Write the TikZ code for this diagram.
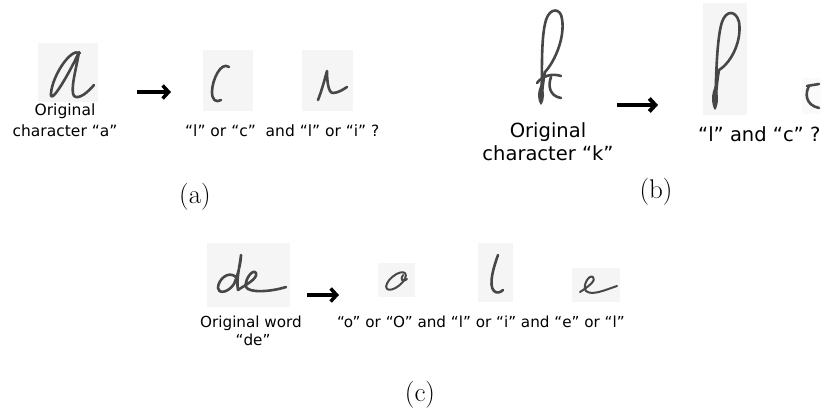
\documentclass[tikz,border=0pt]{standalone}
\usepackage{fontspec}
\newfontfamily\lab{DejaVu Sans}
\usetikzlibrary{arrows.meta}
\begin{document}
\begin{tikzpicture}[x=1pt,y=-1pt,
  gbox/.style={fill=black!4, draw=none},
  pen/.style={draw=black!72, line width=2.6pt, line cap=round, line join=round},
  thinpen/.style={pen, line width=2pt},
  inkfill/.style={fill=black!72},
  labA/.style={font=\lab\fontsize{15.5}{19}\selectfont, inner sep=0pt, anchor=base},
  labB/.style={font=\lab\fontsize{19.5}{23}\selectfont, inner sep=0pt, anchor=base},
  labC/.style={font=\lab\fontsize{15.2}{18}\selectfont, inner sep=0pt, anchor=base},
  capt/.style={font=\fontsize{27}{32}\selectfont, inner sep=0pt},
  arr/.style={line width=3.5pt, -{Straight Barb[length=6pt,width=13pt]}},
]
\useasboundingbox (0,0) rectangle (821,409);

% ---------------- (a) ----------------
\fill[gbox] (38,43) rectangle (98,102);
\draw[pen] (80,53) .. controls (70,47) and (50,80) .. (51,96)
           .. controls (53,101) and (70,72) .. (79,52)
           .. controls (76,70) and (70,90) .. (74,96)
           .. controls (79,100) and (88,92) .. (94,85);
\node[labA] (aO) at (65,116) {Original};
\node[labA] (aC) at (65,136) {character “a”};

\coordinate (aS) at (137,92);
\coordinate (aE) at (171,92);
\draw[arr] (aS) -- (aE);

\fill[gbox] (203,50) rectangle (253,111);
\draw[pen] (229,67) .. controls (221,61) and (212,80) .. (212,92)
           .. controls (212,100) and (216,103) .. (221,100);
\fill[gbox] (302,50) rectangle (353,111);
\draw[pen] (318,100) .. controls (322,90) and (325,78) .. (327,71)
           .. controls (327,80) and (328,93) .. (333,93)
           .. controls (338,93) and (344,89) .. (347,87);
\node[labA, anchor=base west] (aR) at (185,136) {“l” or “c”\ \ and “l” or “i” ?};
\node[capt] (capA) at (195,197) {(a)};

% ---------------- (b) ----------------
\draw[pen] (541,103) .. controls (543,80) and (540,40) .. (546,20)
           .. controls (550,7) and (561,8) .. (562,19)
           .. controls (565,36) and (556,60) .. (545,72)
           .. controls (543,82) and (542,92) .. (541,103);
\fill[inkfill] (541,84) .. controls (545,92) and (545,100) .. (541,105)
               .. controls (537,100) and (537,92) .. (541,84);
\draw[pen] (537,83) .. controls (542,76) and (552,73) .. (561,76);
\draw[pen] (551,77) .. controls (548,85) and (549,96) .. (561,98);
\node[labB] (bO) at (548,137) {Original};
\node[labB] (bC) at (548,160) {character “k”};

\coordinate (bS) at (617,105);
\coordinate (bE) at (658,105);
\draw[arr, line width=4pt] (bS) -- (bE);

\fill[gbox] (703,3) rectangle (747,115);
\draw[pen] (715,108) .. controls (716,90) and (716,40) .. (722,22)
           .. controls (726,10) and (736,10) .. (739,22)
           .. controls (742,40) and (732,62) .. (719,70)
           .. controls (717,80) and (716,95) .. (715,108);
\fill[inkfill] (715,86) .. controls (719,94) and (719,104) .. (715,110)
               .. controls (711,104) and (711,94) .. (715,86);
\fill[black!2] (802,78) rectangle (821,114);
\draw[pen] (807,86) -- (819,84);
\draw[pen] (809,86) .. controls (805,93) and (805,105) .. (819,108);
\node[labB, anchor=base west] (bR) at (698,141) {“l” and “c” ?};
\node[capt] (capB) at (656,192) {(b)};

% ---------------- (c) ----------------
\fill[gbox] (207,243) rectangle (290,307);
\draw[pen] (236,277) .. controls (228,270) and (218,280) .. (218,288)
           .. controls (218,294) and (228,293) .. (234,284)
           .. controls (238,275) and (241,262) .. (241,255)
           .. controls (240,265) and (236,280) .. (238,290);
\draw[pen] (238,290) .. controls (245,285) and (258,279) .. (256,273)
           .. controls (253,268) and (244,280) .. (246,287)
           .. controls (249,293) and (270,292) .. (286,287);
\node[labC] (cO) at (251,327) {Original word};
\node[labC] (cD) at (253,345) {“de”};

\coordinate (cS) at (307,295);
\coordinate (cE) at (339,295);
\draw[arr] (cS) -- (cE);

\fill[gbox] (378,263) rectangle (415,297);
\draw[thinpen, rotate around={40:(396,281)}] (396,281) ellipse [x radius=12, y radius=5.5];
\draw[thinpen] (403,275) .. controls (400,279) and (402,283) .. (407,279);
\fill[gbox] (478,243) rectangle (513,302);
\draw[pen] (498,255) .. controls (494,266) and (488,285) .. (494,291)
           .. controls (497,294) and (501,292) .. (503,290);
\fill[gbox] (572,268) rectangle (620,302);
\draw[thinpen] (580,292) .. controls (588,287) and (597,280) .. (593,277)
           .. controls (589,274) and (582,286) .. (586,291)
           .. controls (592,296) and (605,290) .. (617,286);
\node[labC, anchor=base west] (cR) at (337,327) {“o” or “O” and “l” or “i” and “e” or “l”};
\node[capt] (capC) at (420,395) {(c)};
\end{tikzpicture}
\end{document}
